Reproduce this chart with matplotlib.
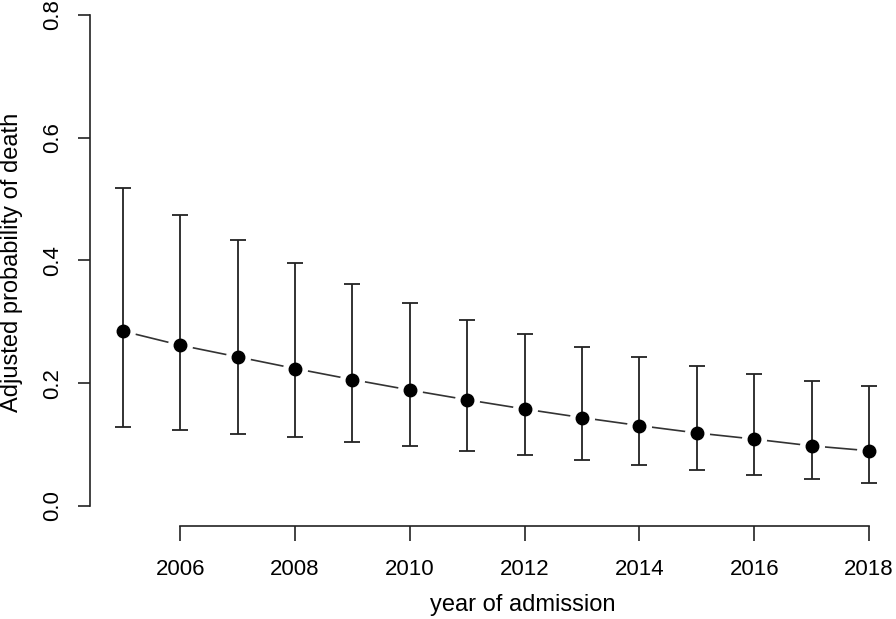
import numpy as np
import matplotlib
matplotlib.use('Agg')
from matplotlib import pyplot as plt

plt.rcParams['font.family'] = ['Liberation Sans', 'DejaVu Sans']

years = [2005, 2006, 2007, 2008, 2009, 2010, 2011, 2012, 2013, 2014, 2015, 2016, 2017, 2018]
prob = [0.285, 0.262, 0.243, 0.224, 0.206, 0.189, 0.173, 0.158, 0.144, 0.131, 0.119, 0.109, 0.098, 0.090]
upper = [0.518, 0.474, 0.434, 0.396, 0.362, 0.331, 0.303, 0.280, 0.259, 0.242, 0.228, 0.215, 0.204, 0.195]
lower = [0.129, 0.124, 0.117, 0.112, 0.105, 0.098, 0.090, 0.083, 0.075, 0.067, 0.059, 0.051, 0.044, 0.038]
xticks = [2006, 2008, 2010, 2012, 2014, 2016, 2018]
yticks = [0.0, 0.2, 0.4, 0.6, 0.8]

years = np.array(years)
prob = np.array(prob)
err = np.vstack((prob - np.array(lower), np.array(upper) - prob))

W, H = 896, 619
fig = plt.figure(figsize=(W/100, H/100), dpi=100)
fig.set_facecolor('white')
ax = fig.add_axes([90/W, (H-526)/H, (W-90)/W, 526/H])

# line with gaps round the points (like R type="b")
ax.plot(years, prob, color='#333333', lw=1.2, zorder=1)
ax.plot(years, prob, 'o', ms=17, color='white', mec='white', zorder=2)
ax.errorbar(years, prob, yerr=err, fmt='none', ecolor='#222222',
            elinewidth=1.3, capsize=5.5, capthick=1.3, zorder=3)
ax.plot(years, prob, 'o', ms=9, color='black', zorder=4)

ax.set_xlim(2004.43, 2018.47)
ax.set_ylim(-0.0326, 0.8244)

for s in ['top', 'right']:
    ax.spines[s].set_visible(False)
ax.spines['left'].set_bounds(0, 0.8)
ax.spines['bottom'].set_bounds(2006, 2018)
for s in ['left', 'bottom']:
    ax.spines[s].set_linewidth(1.2)
    ax.spines[s].set_color('#222222')

ax.set_xticks(xticks)
ax.set_xticklabels([str(t) for t in xticks])
ax.set_yticks(yticks)
ax.set_yticklabels(['%.1f' % t for t in yticks], rotation=90, va='center')
ax.tick_params(axis='x', length=10.5, width=1.2, color='#222222', labelsize=16, pad=13)
ax.tick_params(axis='y', length=9, width=1.2, color='#222222', labelsize=16, pad=10)

ax.set_xlabel('year of admission', fontsize=17, va='center')
ax.xaxis.set_label_coords(0.537, -0.150)
ax.set_ylabel('Adjusted probability of death', fontsize=17, va='center')
ax.yaxis.set_label_coords(-0.097, 0.502)

fig.savefig('out.png', dpi=100)
